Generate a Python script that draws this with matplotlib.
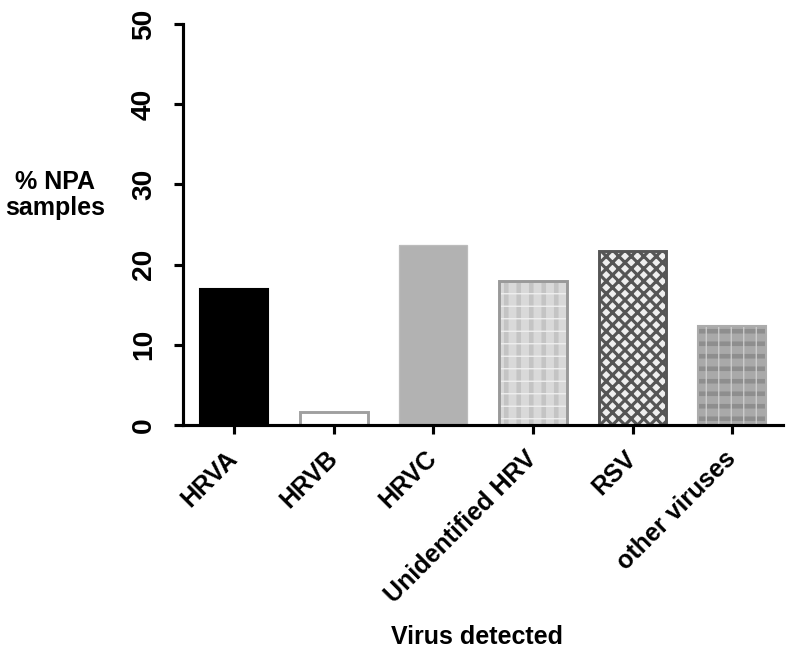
import matplotlib
matplotlib.use("Agg")
import matplotlib.pyplot as plt
import numpy as np

# data
viruses = ["HRVA", "HRVB", "HRVC", "Unidentified HRV", "RSV", "other viruses"]
percent = [17.0, 1.6, 22.4, 18.0, 21.7, 12.3]
yticks = [0, 10, 20, 30, 40, 50]

# bar styles: fill, edge, edge width, list of (hatch, hatch colour, hatch width)
fills = ["black", "white", "#b2b2b2", "#d9d9d9", "#eeeeee", "#a9a9a9"]
edges = ["black", "#a0a0a0", "#bcbcbc", "#999999", "#555555", "#acacac"]
edge_w = [1.0, 1.4, 0.6, 1.4, 1.4, 1.0]
hatches = [
    [],
    [],
    [],
    [("||", "#c4c4c4", 2.2), ("--", "#f2f2f2", 0.6)],
    [("xxxx", "#555555", 1.5)],
    [("--", "#8e8e8e", 2.2), ("||", "#d0d0d0", 0.6)],
]

plt.rcParams["font.family"] = ["Liberation Sans", "DejaVu Sans"]
plt.rcParams["font.weight"] = "bold"

DPI = 150
fig = plt.figure(figsize=(793 / DPI, 662 / DPI), dpi=DPI)
ax = fig.add_axes([182.5 / 793, 1 - 425 / 662, (783 - 182.5) / 793, (425 - 24) / 662])

x = np.arange(len(viruses))
w = 0.68

for i in range(len(viruses)):
    ax.bar(x[i], percent[i], width=w, color=fills[i], edgecolor="none", linewidth=0, zorder=1)
    for h, hc, hw in hatches[i]:
        with plt.rc_context({"hatch.linewidth": hw}):
            b = ax.bar(x[i], percent[i], width=w, facecolor="none", edgecolor=hc,
                       linewidth=0, hatch=h, zorder=1.1)
        for p in b:
            if hasattr(p, "set_hatch_linewidth"):
                p.set_hatch_linewidth(hw)
    ax.bar(x[i], percent[i], width=w, facecolor="none", edgecolor=edges[i],
           linewidth=edge_w[i], zorder=1.2)

ax.set_xlim(-0.517, 5.51)
ax.set_ylim(0, 50)
ax.set_yticks(yticks)
ax.set_yticklabels([str(t) for t in yticks], rotation=90, va="center", fontsize=13.5,
                   fontweight="bold")
ax.set_xticks(x)
ax.set_xticklabels(viruses, rotation=45, ha="right", va="center", rotation_mode="anchor",
                   fontsize=12, fontweight="bold")

for s in ["top", "right"]:
    ax.spines[s].set_visible(False)
for s in ["left", "bottom"]:
    ax.spines[s].set_linewidth(1.5)
ax.tick_params(axis="both", length=4.3, width=1.5, direction="out")
ax.tick_params(axis="y", pad=8)
ax.tick_params(axis="x", pad=10)

fig.text(55 / 793, 1 - 195 / 662, "% NPA\nsamples", ha="center", va="center",
         multialignment="center", fontsize=12, fontweight="bold", linespacing=1.1)
fig.text(477 / 793, 1 - 637 / 662, "Virus detected", ha="center", va="center",
         fontsize=12, fontweight="bold")

fig.savefig("out.png", dpi=DPI)
